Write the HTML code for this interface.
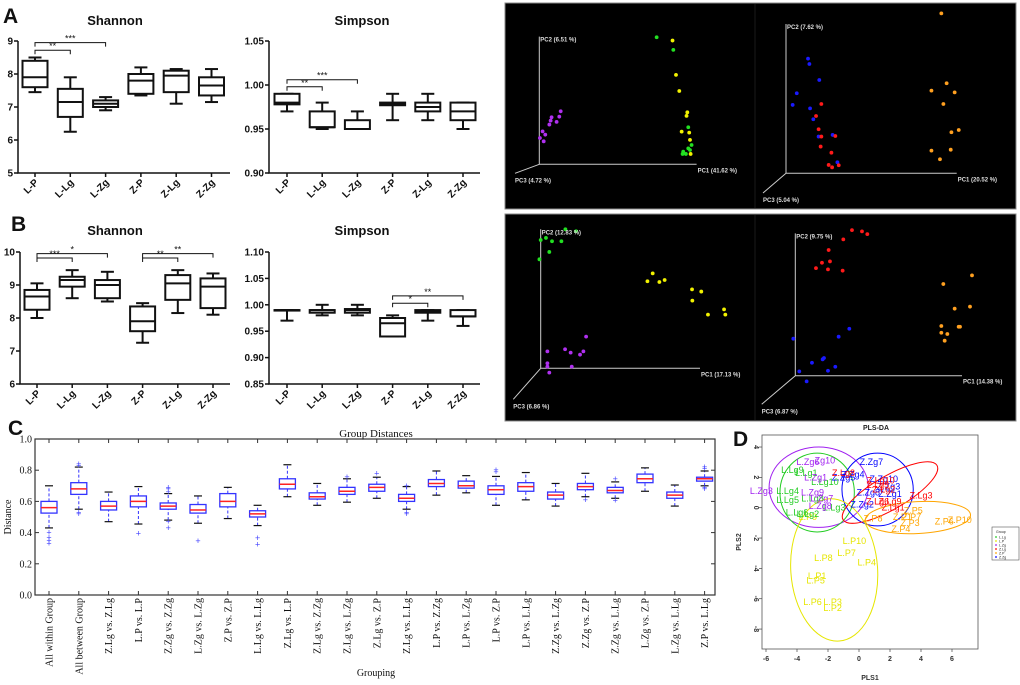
<!DOCTYPE html>
<html><head><meta charset="utf-8"><style>
html,body{margin:0;padding:0;background:#fff;}
svg{display:block;font-family:"Liberation Sans",Arial,sans-serif;}
</style></head><body>
<svg id="fig" width="1020" height="685" viewBox="0 0 1020 685" xmlns="http://www.w3.org/2000/svg"></svg>
<script>
// ---------- Panel A/B data: [min, q1, median, q3, max] ----------
const groupsAB = ["L-P","L-Lg","L-Zg","Z-P","Z-Lg","Z-Zg"];
const shannonA = [[7.45,7.6,7.9,8.4,8.5],[6.25,6.7,7.15,7.55,7.9],[6.9,7.0,7.1,7.2,7.3],[7.35,7.4,7.8,8.0,8.2],[7.1,7.45,7.95,8.1,8.15],[7.15,7.35,7.65,7.9,8.15]];
const simpsonA = [[0.97,0.978,0.98,0.99,0.99],[0.95,0.952,0.952,0.97,0.98],[0.95,0.95,0.95,0.96,0.97],[0.96,0.977,0.978,0.98,0.99],[0.96,0.97,0.975,0.98,0.99],[0.95,0.96,0.97,0.98,0.98]];
const shannonB = [[8.0,8.25,8.65,8.85,9.05],[8.6,8.95,9.15,9.25,9.45],[8.5,8.6,9.0,9.15,9.4],[7.25,7.6,7.9,8.35,8.45],[8.15,8.55,9.05,9.3,9.45],[8.1,8.3,8.95,9.2,9.35]];
const simpsonB = [[0.97,0.99,0.99,0.99,0.99],[0.98,0.985,0.99,0.99,1.0],[0.98,0.985,0.99,0.992,1.0],[0.94,0.94,0.965,0.975,0.98],[0.97,0.985,0.988,0.99,0.99],[0.96,0.978,0.978,0.99,0.99]];
const ticksShannonA = [5,6,7,8,9];
const ticksSimpsonA = ["0.90","0.95","1.00","1.05"];
const ticksShannonB = [6,7,8,9,10];
const ticksSimpsonB = ["0.85","0.90","0.95","1.00","1.05","1.10"];
// significance: [fromIndex, toIndex, value, stars]
const sigShannonA = [[0,1,8.72,"**"],[0,2,8.95,"***"]];
const sigSimpsonA = [[0,1,0.998,"**"],[0,2,1.006,"***"]];
const sigShannonB = [[0,1,9.82,"***"],[0,2,9.95,"*"],[3,4,9.82,"**"],[3,5,9.95,"**"]];
const sigSimpsonB = [[3,4,1.003,"*"],[3,5,1.017,"**"]];

// ---------- Panel C data ----------
const catsC = ["All within Group","All between Group","Z.Lg vs. Z.Lg","L.P vs. L.P","Z.Zg vs. Z.Zg","L.Zg vs. L.Zg","Z.P vs. Z.P","L.Lg vs. L.Lg","Z.Lg vs. L.P","Z.Lg vs. Z.Zg","Z.Lg vs. L.Zg","Z.Lg vs. Z.P","Z.Lg vs. L.Lg","L.P vs. Z.Zg","L.P vs. L.Zg","L.P vs. Z.P","L.P vs. L.Lg","Z.Zg vs. L.Zg","Z.Zg vs. Z.P","Z.Zg vs. L.Lg","L.Zg vs. Z.P","L.Zg vs. L.Lg","Z.P vs. L.Lg"];
const medC = [0.56,0.68,0.57,0.60,0.57,0.545,0.60,0.52,0.71,0.63,0.665,0.69,0.62,0.715,0.70,0.675,0.695,0.64,0.695,0.67,0.745,0.64,0.745];
const q1C = [0.525,0.645,0.545,0.565,0.55,0.525,0.565,0.50,0.68,0.615,0.645,0.665,0.60,0.695,0.685,0.645,0.665,0.615,0.675,0.655,0.72,0.62,0.73];
const q3C = [0.60,0.72,0.60,0.635,0.59,0.58,0.65,0.54,0.745,0.655,0.69,0.71,0.645,0.74,0.73,0.70,0.72,0.66,0.715,0.69,0.775,0.66,0.755];
const loC = [0.43,0.55,0.47,0.455,0.48,0.46,0.49,0.445,0.63,0.575,0.595,0.62,0.55,0.64,0.655,0.575,0.61,0.57,0.63,0.62,0.665,0.57,0.70];
const hiC = [0.70,0.82,0.66,0.695,0.65,0.635,0.69,0.575,0.835,0.715,0.745,0.755,0.695,0.795,0.765,0.76,0.785,0.715,0.78,0.725,0.815,0.705,0.795];
const outC = [[0.40,0.37,0.35,0.33],[0.52,0.53,0.83,0.84],[],[0.395],[0.43,0.47,0.66,0.68,0.69],[0.345],[],[0.365,0.325],[],[],[0.755],[0.78],[0.52,0.53,0.70],[],[],[0.79,0.80],[],[],[0.61],[0.605,0.745],[],[],[0.68,0.69,0.81,0.82]];
const ticksC = ["0.0","0.2","0.4","0.6","0.8","1.0"];

// ---------- PCA data (percent of axis extents) ----------
const pcaTL = {green:[[74.6,99.5],[85.2,89.6],[94.7,29],[96.8,15.1],[94.7,12.5],[91.5,9.9],[93.2,8.1],[91.1,8.1],[95.8,11.2]],
 yellow:[[84.7,96.9],[86.9,70],[89,57.4],[94.1,40.7],[93.6,37.9],[90.5,25.6],[95.3,24.8],[95.8,19.1],[96.2,8.1]],
 purple:[[13.6,41.5],[7.8,36.8],[12.7,37.3],[7.2,34.2],[11,33.2],[6.4,31.1],[2.1,25.8],[3.8,23.2],[0.4,20.6],[2.8,18]]};
const pcaTR = {blue:[[12.9,76.8],[13.7,73.2],[19.5,62.5],[6.3,53.6],[3.9,45.8],[14.1,43.5],[16,36.2],[19.1,24.6],[27.3,25.7],[30.1,7.4]],
 red:[[20.7,46.4],[17.6,38.4],[19.1,29.5],[20.7,24.6],[20.3,17.9],[28.9,25],[26.6,13.8],[25,5.6],[27,4],[30.9,5.4]],
 orange:[[91,107.1],[94.1,60.3],[85.2,55.4],[98.8,54.2],[92.2,46.4],[101.2,29],[96.9,27.5],[85.2,15.2],[96.5,15.8],[90.2,9.4]]};
const pcaBL = {green:[[-0.8,78.4],[0,92.3],[3.3,93.8],[7.1,91.4],[13,91.4],[5.4,83.7],[15.5,100],[22.2,98.6]],
 yellow:[[70.3,68.3],[67,62.6],[74.5,62.1],[77.8,63.5],[95,56.8],[100.8,55.2],[95.2,48.7],[105,38.6],[115.1,42.4],[115.9,38.6]],
 purple:[[28.5,22.8],[4.2,12.2],[15.3,13.7],[18.8,11.3],[24.7,9.8],[26.8,12.2],[4.2,3.6],[4.2,1.2],[5.4,-3.1],[19.5,1.2]]};
const pcaBR = {red:[[34,102.3],[40,101.4],[43.2,99.5],[28.8,95.8],[20,88.3],[16,79.4],[20.8,80.3],[12.4,75.6],[19.6,74.7],[28.4,73.8]],
 blue:[[32.4,33],[-1.2,26],[26,27.4],[10,9.1],[16.4,11.5],[17.2,12.4],[24,6.3],[19.6,3.5],[2.4,3],[6.8,-4]],
 orange:[[106,70.5],[88.8,64.4],[104.8,48.5],[95.6,47.1],[87.6,34.9],[98,34.4],[98.8,34.4],[87.6,30.2],[91.2,29.3],[89.6,24.6]]};
const pcaLabels = [["PC2 (6.51 %)","PC1 (41.62 %)","PC3 (4.72 %)"],["PC2 (7.62 %)","PC1 (20.52 %)","PC3 (5.04 %)"],["PC2 (12.83 %)","PC1 (17.13 %)","PC3 (6.86 %)"],["PC2 (9.75 %)","PC1 (14.38 %)","PC3 (6.87 %)"]];

// ---------- PLS-DA data ----------
const plsNames = ["L.P10","L.P8","L.P7","L.P4","L.P1","L.P5","L.P6","L.P3","L.P2","L.P9",
 "L.Lg9","L.Lg1","L.Lg10","L.Lg4","L.Lg5","L.Lg3","L.Lg2","L.Lg6","L.Lg8",
 "L.Zg6","Zg10","L.Zg1","L.Zg9","L.Zg7","L.Zg3","L.Zg8",
 "Z.Zg7","Z.Zg4","Z.Zg5","Z.Zg10","Z.Zg3","Z.Zg8","Z.Zg1","Z.Zg2",
 "Z.Lg3","Z.Lg8","Z.Lg10","Z.Lg5","Z.Lg9","Z.Lg6","Z.Lg1","Z.Lg2",
 "Z.P5","Z.P7","Z.P3","Z.P4","Z.P8","Z.P10","Z.P6","Z.P1"];
const plsX = [-0.3,-2.3,-0.8,0.5,-2.7,-2.8,-3.0,-1.7,-1.7,-3.3, -4.3,-3.4,-2.2,-4.6,-4.6,-1.6,-3.3,-4.0,-3.0, -3.3,-2.2,-2.8,-3.0,-2.4,-6.3,-2.5, 0.8,-0.4,-1.0,1.6,1.9,0.6,2.0,0.2, 4.0,-1.0,1.4,1.2,2.0,1.2,2.2,1.6, 3.5,3.4,3.3,2.7,0.9,6.5,5.5,2.8];
const plsY = [-2.2,-3.3,-3.0,-3.6,-4.5,-4.8,-6.2,-6.2,-6.6,-0.6, 2.5,2.3,1.7,1.1,0.5,0.0,-0.4,-0.3,0.6, 3.0,3.1,2.0,1.0,0.6,1.1,0.1, 3.0,2.2,2.0,1.9,1.4,1.0,0.9,0.2, 0.8,2.3,1.8,1.5,0.4,0.4,0.0,1.2, -0.2,-0.6,-1.0,-1.4,-0.7,-0.8,-0.9,-0.6];
const plsGroup = ["L.P","L.P","L.P","L.P","L.P","L.P","L.P","L.P","L.P","L.P","L.Lg","L.Lg","L.Lg","L.Lg","L.Lg","L.Lg","L.Lg","L.Lg","L.Lg","L.Zg","L.Zg","L.Zg","L.Zg","L.Zg","L.Zg","L.Zg","Z.Zg","Z.Zg","Z.Zg","Z.Zg","Z.Zg","Z.Zg","Z.Zg","Z.Zg","Z.Lg","Z.Lg","Z.Lg","Z.Lg","Z.Lg","Z.Lg","Z.Lg","Z.Lg","Z.P","Z.P","Z.P","Z.P","Z.P","Z.P","Z.P","Z.P"];
// ellipses: group, cx, cy, rx, ry, angle(deg)
const ellGroups = ["L.Zg","L.Lg","Z.Zg","Z.Lg","Z.P","L.P"];
const ellCx = [-2.6,-2.7,1.2,2.0,3.8,-1.6];
const ellCy = [1.35,1.0,1.2,1.0,-0.65,-4.1];
const ellRx = [3.2,2.4,2.3,3.5,3.4,2.8];
const ellRy = [2.65,2.6,2.4,1.1,1.05,4.7];
const ellAng = [0,0,0,-30,-3,-4];
const ticksPLSX = [-6,-4,-2,0,2,4,6];
const ticksPLSY = [-8,-6,-4,-2,0,2,4];

const COLORS = {green:"#22e022",yellow:"#f2f200",purple:"#b030f0",red:"#ff1a1a",blue:"#1a1aff",orange:"#ffa020"};
const GCOL = {"L.Lg":"#22cc22","L.P":"#e6e600","L.Zg":"#a020f0","Z.Lg":"#ff0000","Z.P":"#ffa500","Z.Zg":"#0000ff"};

const svg = document.getElementById('fig');
const NS = "http://www.w3.org/2000/svg";
function el(tag, attrs, parent){
  const e = document.createElementNS(NS, tag);
  for (const k in attrs) e.setAttribute(k, attrs[k]);
  (parent||svg).appendChild(e);
  return e;
}
function txt(s, attrs, parent){ const t = el('text', attrs, parent); t.textContent = s; return t; }

// ================= Panels A & B =================
function boxPanel(cfg){
  const g = el('g', {});
  
  
  const y = v => cfg.y0 + (v - cfg.vmin) / (cfg.vmax - cfg.vmin) * (cfg.y1 - cfg.y0);
  const t = txt(cfg.title, {x:cfg.titleX, y:cfg.titleY, 'text-anchor':'middle', 'font-size':'13', 'font-weight':'bold', fill:'#111'}, g);
  
  
  const ax = el('path', {d:`M${cfg.axX},${cfg.y1} V${cfg.y0} H${cfg.axEnd}`, stroke:'#111', 'stroke-width':'1.5', fill:'none'}, g);
  
  
  cfg.ticks.forEach(tv => {
    const v = parseFloat(tv);
    el('line', {x1:cfg.axX-4, x2:cfg.axX, y1:y(v), y2:y(v), stroke:'#111', 'stroke-width':'1.5'}, g);
    const tl = txt(String(tv), {x:cfg.axX-5, y:y(v)+3.5, 'text-anchor':'end', 'font-size':'10', 'font-weight':'bold', fill:'#111'}, g);
    
    
  });
  cfg.data.forEach((d, i) => {
    const cx = cfg.cx0 + i * cfg.dx;
    const bw = 25, cw = 13;
    const b = el('g', {}, g);
    
    
    const st = {stroke:'#111', 'stroke-width':'2', fill:'none'};
    el('line', Object.assign({x1:cx, x2:cx, y1:y(d[0]), y2:y(d[4])}, st), b);
    el('line', Object.assign({x1:cx-cw/2, x2:cx+cw/2, y1:y(d[0]), y2:y(d[0])}, st), b);
    el('line', Object.assign({x1:cx-cw/2, x2:cx+cw/2, y1:y(d[4]), y2:y(d[4])}, st), b);
    el('rect', {x:cx-bw/2, y:y(d[3]), width:bw, height:Math.max(0.5, y(d[1])-y(d[3])), stroke:'#111','stroke-width':'2', fill:'#fff'}, b);
    el('line', Object.assign({x1:cx-bw/2, x2:cx+bw/2, y1:y(d[2]), y2:y(d[2])}, st), b);
    el('line', {x1:cx, x2:cx, y1:cfg.y0, y2:cfg.y0+4, stroke:'#111','stroke-width':'1.5'}, g);
    const lx = cx + 4, ly = cfg.y0 + 10;
    const cl = txt(groupsAB[i], {x:lx, y:ly, 'text-anchor':'end', 'font-size':'10', 'font-weight':'bold', fill:'#111', transform:`rotate(-45 ${lx} ${ly})`}, g);
    
    
  });
  cfg.sig.forEach(s => {
    const xa = cfg.cx0 + s[0]*cfg.dx, xb = cfg.cx0 + s[1]*cfg.dx, yy = y(s[2]);
    const br = el('path', {d:`M${xa},${yy+4} V${yy} H${xb} V${yy+4}`, stroke:'#111','stroke-width':'1', fill:'none'}, g);
    
    
    txt(s[3], {x:(xa+xb)/2, y:yy-1, 'text-anchor':'middle', 'font-size':'9', fill:'#111'}, g);
  });
}
function letter(s, x, y, name){
  const t = txt(s, {x:x, y:y, 'font-size':'21', 'font-weight':'bold', fill:'#111'});
  
  
}
letter('A', 3, 23, 'panel-label-a');
letter('B', 11, 231, 'panel-label-b');
letter('C', 8, 435, 'panel-label-c');
letter('D', 733, 446, 'panel-label-d');

boxPanel({name:'shannon-a', title:'Shannon', titleX:115, titleY:25, axX:18, axEnd:230, y0:173, y1:41, vmin:5, vmax:9, ticks:ticksShannonA, cx0:35, dx:35.3, data:shannonA, sig:sigShannonA});
boxPanel({name:'simpson-a', title:'Simpson', titleX:362, titleY:25, axX:269, axEnd:480, y0:173, y1:41, vmin:0.90, vmax:1.05, ticks:ticksSimpsonA, cx0:287, dx:35.2, data:simpsonA, sig:sigSimpsonA});
boxPanel({name:'shannon-b', title:'Shannon', titleX:115, titleY:235, axX:20, axEnd:230, y0:384, y1:252, vmin:6, vmax:10, ticks:ticksShannonB, cx0:37, dx:35.2, data:shannonB, sig:sigShannonB});
boxPanel({name:'simpson-b', title:'Simpson', titleX:362, titleY:235, axX:269, axEnd:480, y0:384, y1:252, vmin:0.85, vmax:1.10, ticks:ticksSimpsonB, cx0:287, dx:35.2, data:simpsonB, sig:sigSimpsonB});

// ================= PCA black panels =================
[[505,3,511,206],[505,214,511,207]].forEach((r,i)=>{
  const bg = el('rect', {x:r[0], y:r[1], width:r[2], height:r[3], fill:'#000', stroke:'#888', 'stroke-width':'1'});
  
  
  el('line', {x1:755, x2:755, y1:r[1]+1, y2:r[1]+r[3]-1, stroke:'#1a1a1a', 'stroke-width':'1'});
});
function pca(name, data, o, labels){
  const g = el('g', {});
  
  
  el('path', {d:`M${o.x},${o.y-o.h} V${o.y} H${o.x+o.len} M${o.x},${o.y} L${o.p3x},${o.p3y}`, stroke:'#ccc','stroke-width':'1', fill:'none'}, g);
  const sx = p => o.x + p/100*o.len, sy = p => o.y - p/100*o.h;
  Object.keys(data).forEach(c => {
    data[c].forEach(p => {
      const dot = el('circle', {cx:sx(p[0]), cy:sy(p[1]), r:1.9, fill:COLORS[c]}, g);
      
      
    });
  });
  const st = {'font-size':'6','font-weight':'bold', fill:'#ddd'};
  txt(labels[0], Object.assign({x:o.x+1, y:o.y-o.h+5}, st), g);
  txt(labels[1], Object.assign({x:o.x+o.len+1, y:o.y+8}, st), g);
  txt(labels[2], Object.assign({x:o.p3x, y:o.p3y+9}, st), g);
}
pca('pcoa-top-left', pcaTL, {x:539.3, y:164.3, len:157.3, h:127.7, p3x:515, p3y:173.3}, pcaLabels[0]);
pca('pcoa-top-right', pcaTR, {x:786, y:173.3, len:170.7, h:149.3, p3x:763, p3y:193}, pcaLabels[1]);
pca('pcoa-bottom-left', pcaBL, {x:540.7, y:368.3, len:159.3, h:139, p3x:513.3, p3y:399.3}, pcaLabels[2]);
pca('pcoa-bottom-right', pcaBR, {x:795.3, y:375.7, len:166.7, h:142.3, p3x:761.7, p3y:404.3}, pcaLabels[3]);

// ================= Panel C =================
(function(){
  const L=35, R=715, T=439, B=595;
  const g = el('g', {});
  
  
  const y = v => B - v*(B-T);
  const x = i => 49 + i*29.8;
  const fr = el('rect', {x:L, y:T, width:R-L, height:B-T, fill:'none', stroke:'#333','stroke-width':'1.2'}, g);
  
  
  const tt = txt('Group Distances', {x:376, y:437, 'text-anchor':'middle', 'font-size':'11', 'font-family':'"Liberation Serif",serif', fill:'#111'}, g);
  
  
  ticksC.forEach(tv => {
    const v = parseFloat(tv);
    el('line', {x1:L, x2:L+4, y1:y(v), y2:y(v), stroke:'#333'}, g);
    el('line', {x1:R-4, x2:R, y1:y(v), y2:y(v), stroke:'#333'}, g);
    const tl = txt(tv, {x:L-3, y:y(v)+3.5, 'text-anchor':'end', 'font-size':'10', 'font-family':'"Liberation Serif",serif', fill:'#111'}, g);
    
    
  });
  const yl = txt('Distance', {x:11, y:517, 'text-anchor':'middle', 'font-size':'10', 'font-family':'"Liberation Serif",serif', fill:'#111', transform:'rotate(-90 11 517)'}, g);
  
  
  const xl = txt('Grouping', {x:376, y:676, 'text-anchor':'middle', 'font-size':'10', 'font-family':'"Liberation Serif",serif', fill:'#111'}, g);
  
  
  catsC.forEach((c,i) => {
    const cx = x(i), bw = 16;
    const b = el('g', {}, g);
    
    
    el('line', {x1:cx, x2:cx, y1:y(loC[i]), y2:y(q1C[i]), stroke:'#3333ff','stroke-dasharray':'3,2'}, b);
    el('line', {x1:cx, x2:cx, y1:y(q3C[i]), y2:y(hiC[i]), stroke:'#3333ff','stroke-dasharray':'3,2'}, b);
    el('line', {x1:cx-4, x2:cx+4, y1:y(loC[i]), y2:y(loC[i]), stroke:'#111','stroke-width':'1.2'}, b);
    el('line', {x1:cx-4, x2:cx+4, y1:y(hiC[i]), y2:y(hiC[i]), stroke:'#111','stroke-width':'1.2'}, b);
    el('rect', {x:cx-bw/2, y:y(q3C[i]), width:bw, height:y(q1C[i])-y(q3C[i]), fill:'none', stroke:'#3333ff','stroke-width':'1.3'}, b);
    el('line', {x1:cx-bw/2, x2:cx+bw/2, y1:y(medC[i]), y2:y(medC[i]), stroke:'#ff2222','stroke-width':'1.5'}, b);
    outC[i].forEach(v => {
      const o = txt('+', {x:cx, y:y(v)+3, 'text-anchor':'middle', 'font-size':'9', fill:'#4444ff'}, b);
      
      
    });
    el('line', {x1:cx, x2:cx, y1:B-4, y2:B, stroke:'#333'}, g);
    el('line', {x1:cx, x2:cx, y1:T, y2:T+4, stroke:'#333'}, g);
    const lx = cx+3.5, ly = 598;
    const cl = txt(c, {x:lx, y:ly, 'text-anchor':'end', 'font-size':'10', 'font-family':'"Liberation Serif",serif', fill:'#111', transform:`rotate(-90 ${lx} ${ly})`}, g);
    
    
  });
})();

// ================= Panel D (PLS-DA) =================
(function(){
  const L=762, R=978, T=435, B=649;
  const g = el('g', {});
  
  
  const x = v => 859 + v*15.5;
  const y = v => 507.7 - v*15.17;
  const fr = el('rect', {x:L, y:T, width:R-L, height:B-T, fill:'#fff', stroke:'#555','stroke-width':'0.8'}, g);
  
  
  const tt = txt('PLS-DA', {x:876, y:430, 'text-anchor':'middle', 'font-size':'7', 'font-weight':'bold', fill:'#222'}, g);
  
  
  ticksPLSX.forEach(v => {
    el('line', {x1:x(v), x2:x(v), y1:B, y2:B+3, stroke:'#444','stroke-width':'0.7'}, g);
    txt(String(v), {x:x(v), y:B+12, 'text-anchor':'middle', 'font-size':'7', 'font-weight':'bold', fill:'#333'}, g);
  });
  ticksPLSY.forEach(v => {
    el('line', {x1:L-3, x2:L, y1:y(v), y2:y(v), stroke:'#444','stroke-width':'0.7'}, g);
    txt(String(v), {x:L-8, y:y(v), 'text-anchor':'middle', 'font-size':'7', 'font-weight':'bold', fill:'#333', transform:`rotate(90 ${L-8} ${y(v)})`}, g);
  });
  const xl = txt('PLS1', {x:870, y:680, 'text-anchor':'middle', 'font-size':'7', 'font-weight':'bold', fill:'#333'}, g);
  
  
  const yl = txt('PLS2', {x:741, y:542, 'text-anchor':'middle', 'font-size':'7', 'font-weight':'bold', fill:'#333', transform:'rotate(-90 741 542)'}, g);
  
  
  ellGroups.forEach((gr,i) => {
    const cx = x(ellCx[i]), cy = y(ellCy[i]);
    const e = el('ellipse', {cx:cx, cy:cy, rx:ellRx[i]*15.5, ry:ellRy[i]*15.17, fill:'none', stroke:GCOL[gr], 'stroke-width':'1', transform:`rotate(${ellAng[i]} ${cx} ${cy})`}, g);
    
    
  });
  plsNames.forEach((n,i) => {
    const t = txt(n, {x:x(plsX[i]), y:y(plsY[i])+3, 'text-anchor':'middle', 'font-size':'9', fill:GCOL[plsGroup[i]]}, g);
    
    
  });
  const lg = el('g', {}, g);
  
  
  el('rect', {x:992, y:527, width:27, height:33, fill:'#fff', stroke:'#555','stroke-width':'0.6'}, lg);
  txt('Group', {x:996, y:533, 'font-size':'3.5', fill:'#222'}, lg);
  ["L.Lg","L.P","L.Zg","Z.Lg","Z.P","Z.Zg"].forEach((gr,i) => {
    const ey = 537 + i*4;
    const en = el('g', {}, lg);
    
    
    el('circle', {cx:996, cy:ey, r:0.9, fill:GCOL[gr]}, en);
    txt(gr, {x:999, y:ey+1.3, 'font-size':'3.5', fill:'#222'}, en);
  });
})();
</script>
</body></html>
